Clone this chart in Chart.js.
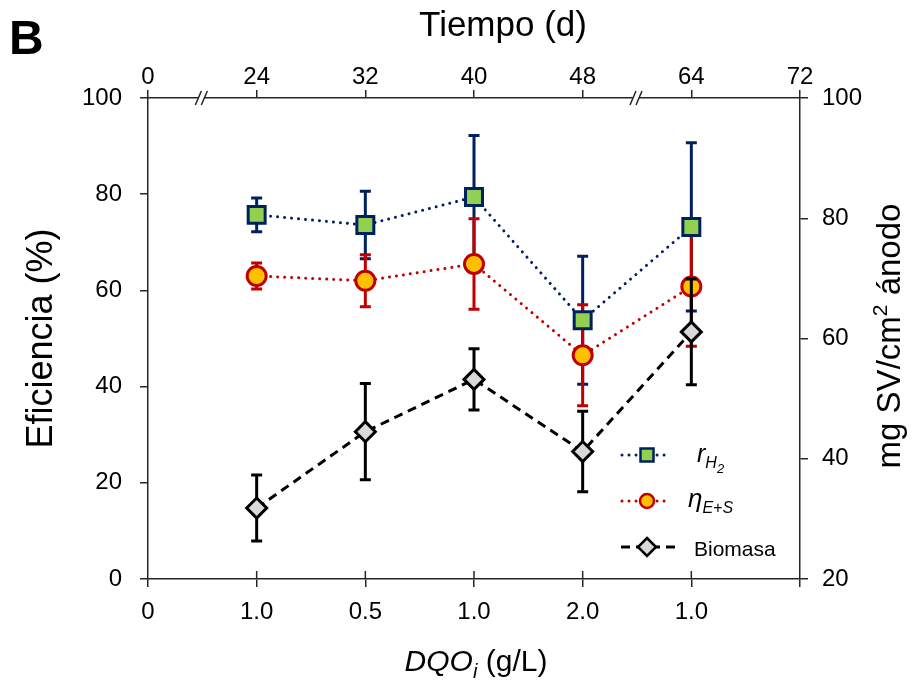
<!DOCTYPE html>
<html>
<head>
<meta charset="utf-8">
<script src="https://cdn.jsdelivr.net/npm/chart.js@4/dist/chart.umd.min.js"></script>
<style>
html,body{margin:0;padding:0;background:#fff;}
#wrap{position:relative;width:923px;height:682px;}
</style>
</head>
<body>
<div id="wrap"><canvas id="c" width="923" height="682"></canvas></div>
<script>
// ---- data ----
const xPositions = [1, 2, 3, 4, 5];
const bottomTickLabels = ['0', '1.0', '0.5', '1.0', '2.0', '1.0', ''];
const topTickLabels = ['0', '24', '32', '40', '48', '64', '72'];
const breakPositions = [0.5, 4.5];

const rH2 = [75.7, 73.6, 79.4, 53.8, 73.2];
const rH2Err = [3.5, 7.0, 12.8, 13.3, 17.5];
const eta = [63.0, 62.0, 65.5, 46.5, 60.8];
const etaErr = [2.7, 5.4, 9.4, 10.5, 12.4];
const biomasa = [31.8, 44.5, 53.2, 41.2, 61.1];
const biomasaErr = [5.5, 8.0, 5.1, 6.7, 8.8];

const FONT = "'Liberation Sans', Arial, sans-serif";
const AXIS = '#262626';
const NAVY = '#002060', RED = '#C00000';

function pts(vals) { return vals.map((v, i) => ({x: xPositions[i], y: v})); }

function drawErr(chart, index) {
  const ds = chart.data.datasets[index];
  const meta = chart.getDatasetMeta(index);
  const ys = chart.scales[ds.yAxisID];
  const ctx = chart.ctx;
  ctx.save();
  ctx.strokeStyle = ds.errColor;
  ctx.lineWidth = 3;
  ctx.lineCap = 'butt';
  meta.data.forEach((p, i) => {
    const v = ds.data[i].y, e = ds.errors[i];
    const yt = ys.getPixelForValue(v + e), yb = ys.getPixelForValue(v - e);
    ctx.beginPath();
    ctx.moveTo(p.x, yt); ctx.lineTo(p.x, yb);
    ctx.moveTo(p.x - 5.5, yt); ctx.lineTo(p.x + 5.5, yt);
    ctx.moveTo(p.x - 5.5, yb); ctx.lineTo(p.x + 5.5, yb);
    ctx.stroke();
  });
  ctx.restore();
}

const errorBars = {
  id: 'errorBars',
  beforeDatasetsDraw(chart) {
    chart.data.datasets.forEach((ds, i) => { if (ds.errEarly) drawErr(chart, i); });
  },
  beforeDatasetDraw(chart, args) {
    const ds = chart.data.datasets[args.index];
    if (ds.errors && !ds.errEarly) drawErr(chart, args.index);
  }
};

function richText(ctx, x, y, parts) {
  let cx = x;
  parts.forEach(pt => {
    ctx.font = pt.font;
    ctx.fillText(pt.text, cx, y + (pt.dy || 0));
    cx += ctx.measureText(pt.text).width;
  });
  return cx - x;
}
function measureRich(ctx, parts) {
  let w = 0;
  parts.forEach(pt => { ctx.font = pt.font; w += ctx.measureText(pt.text).width; });
  return w;
}

const extras = {
  id: 'extras',
  afterDraw(chart) {
    const ctx = chart.ctx, xs = chart.scales.x, a = chart.chartArea;
    ctx.save();
    // inward ticks on the bottom axis
    ctx.strokeStyle = AXIS; ctx.lineWidth = 1.5;
    for (let v = 1; v <= 5; v++) {
      const px = xs.getPixelForValue(v);
      ctx.beginPath(); ctx.moveTo(px, a.bottom); ctx.lineTo(px, a.bottom - 8); ctx.stroke();
    }
    // axis breaks on the top axis
    breakPositions.forEach(v => {
      const px = xs.getPixelForValue(v), y = a.top;
      ctx.fillStyle = '#fff';
      ctx.beginPath();
      ctx.moveTo(px - 7, y + 7); ctx.lineTo(px - 1, y - 7);
      ctx.lineTo(px + 5, y - 7); ctx.lineTo(px - 1, y + 7);
      ctx.closePath(); ctx.fill();
      ctx.strokeStyle = AXIS; ctx.lineWidth = 1.5;
      ctx.beginPath();
      ctx.moveTo(px - 7, y + 7); ctx.lineTo(px - 1, y - 7);
      ctx.moveTo(px - 1, y + 7); ctx.lineTo(px + 5, y - 7);
      ctx.stroke();
    });
    ctx.fillStyle = '#000';
    ctx.textBaseline = 'alphabetic';
    ctx.textAlign = 'left';
    // panel letter
    ctx.font = 'bold 48px ' + FONT;
    ctx.fillText('B', 9, 54);
    // top axis title
    ctx.font = '35px ' + FONT;
    const tw = ctx.measureText('Tiempo (d)').width;
    ctx.fillText('Tiempo (d)', 503 - tw / 2, 36);
    // bottom axis title
    const bt = [
      {text: 'DQO', font: 'italic 30px ' + FONT},
      {text: 'i', font: 'italic 20px ' + FONT, dy: 7},
      {text: ' (g/L)', font: '30px ' + FONT}
    ];
    const bw = measureRich(ctx, bt);
    richText(ctx, 476 - bw / 2, 671, bt);
    // right axis title (reads bottom to top)
    const rt = [
      {text: 'mg SV/cm', font: '33px ' + FONT},
      {text: '2', font: '21px ' + FONT, dy: -13},
      {text: ' ánodo', font: '33px ' + FONT}
    ];
    const rw = measureRich(ctx, rt);
    ctx.save();
    ctx.translate(900, 336);
    ctx.rotate(-Math.PI / 2);
    richText(ctx, -rw / 2, 0, rt);
    ctx.restore();
    // legend
    const lx = 647;
    const rows = [455, 501, 547];
    ctx.lineWidth = 3; ctx.lineCap = 'round';
    ctx.strokeStyle = NAVY; ctx.setLineDash([0.01, 7]);
    ctx.beginPath(); ctx.moveTo(622, rows[0]); ctx.lineTo(670, rows[0]); ctx.stroke();
    ctx.strokeStyle = RED;
    ctx.beginPath(); ctx.moveTo(622, rows[1]); ctx.lineTo(670, rows[1]); ctx.stroke();
    ctx.lineCap = 'butt';
    ctx.strokeStyle = '#000'; ctx.setLineDash([9, 6]);
    ctx.beginPath(); ctx.moveTo(621, rows[2]); ctx.lineTo(675, rows[2]); ctx.stroke();
    ctx.setLineDash([]);
    ctx.lineWidth = 2.5;
    ctx.fillStyle = '#92D050'; ctx.strokeStyle = NAVY;
    ctx.fillRect(lx - 6.5, rows[0] - 6.5, 13, 13); ctx.strokeRect(lx - 6.5, rows[0] - 6.5, 13, 13);
    ctx.fillStyle = '#FFC000'; ctx.strokeStyle = RED;
    ctx.beginPath(); ctx.arc(lx, rows[1], 7, 0, Math.PI * 2); ctx.fill(); ctx.stroke();
    ctx.fillStyle = '#D9D9D9'; ctx.strokeStyle = '#000';
    ctx.beginPath(); ctx.moveTo(lx, rows[2] - 9); ctx.lineTo(lx + 9, rows[2]); ctx.lineTo(lx, rows[2] + 9); ctx.lineTo(lx - 9, rows[2]); ctx.closePath();
    ctx.fill(); ctx.stroke();
    ctx.fillStyle = '#000';
    richText(ctx, 697, 462, [
      {text: 'r', font: 'italic 25px ' + FONT},
      {text: 'H', font: 'italic 16px ' + FONT, dy: 6},
      {text: '2', font: 'italic 13px ' + FONT, dy: 11}
    ]);
    richText(ctx, 688, 507, [
      {text: 'η', font: 'italic 26px ' + FONT},
      {text: 'E+S', font: 'italic 16px ' + FONT, dy: 6}
    ]);
    ctx.font = '21px ' + FONT;
    ctx.fillText('Biomasa', 694, 556);
    ctx.restore();
  }
};

const tickFont = {family: FONT, size: 24};
const gridOpts = {drawOnChartArea: false, drawTicks: true, tickLength: 8, color: AXIS, lineWidth: 1.5};
const borderOpts = {display: true, color: AXIS, width: 1.5};

new Chart(document.getElementById('c'), {
  type: 'line',
  data: {
    datasets: [
      {
        label: 'rH2', data: pts(rH2), errors: rH2Err, errColor: NAVY, errEarly: true,
        xAxisID: 'x', yAxisID: 'y', order: 3,
        borderColor: NAVY, borderWidth: 3, borderDash: [0.01, 7], borderCapStyle: 'round',
        pointStyle: 'rect', pointRadius: 12, pointBorderWidth: 3,
        pointBackgroundColor: '#92D050', pointBorderColor: NAVY, tension: 0, fill: false
      },
      {
        label: 'eta', data: pts(eta), errors: etaErr, errColor: RED, errEarly: true,
        xAxisID: 'x', yAxisID: 'y', order: 2,
        borderColor: RED, borderWidth: 3, borderDash: [0.01, 7], borderCapStyle: 'round',
        pointStyle: 'circle', pointRadius: 9.5, pointBorderWidth: 3,
        pointBackgroundColor: '#FFC000', pointBorderColor: RED, tension: 0, fill: false
      },
      {
        label: 'Biomasa', data: pts(biomasa), errors: biomasaErr, errColor: '#000',
        xAxisID: 'x', yAxisID: 'y2', order: 1,
        borderColor: '#000', borderWidth: 3, borderDash: [9, 6],
        pointStyle: 'rectRot', pointRadius: 10, pointBorderWidth: 3,
        pointBackgroundColor: '#D9D9D9', pointBorderColor: '#000', tension: 0, fill: false
      }
    ]
  },
  options: {
    responsive: false,
    animation: false,
    devicePixelRatio: 1,
    layout: {padding: 0},
    plugins: {legend: {display: false}, tooltip: {enabled: false}},
    scales: {
      x: {
        type: 'linear', position: 'bottom', min: 0, max: 6,
        afterFit(s) { s.height = 103; },
        ticks: {stepSize: 1, autoSkip: false, maxRotation: 0, padding: 11, color: '#000', font: tickFont,
          callback: v => bottomTickLabels[v]},
        grid: gridOpts, border: borderOpts
      },
      x2: {
        type: 'linear', position: 'top', min: 0, max: 6,
        afterFit(s) { s.height = 98; },
        ticks: {stepSize: 1, autoSkip: false, maxRotation: 0, padding: -2, color: '#000', font: tickFont,
          callback: v => topTickLabels[v]},
        grid: gridOpts, border: borderOpts
      },
      y: {
        position: 'left', min: 0, max: 100,
        afterFit(s) { s.width = 148; },
        ticks: {stepSize: 20, padding: 18, color: '#000', font: tickFont},
        grid: gridOpts, border: borderOpts,
        title: {display: true, text: 'Eficiencia (%)', color: '#000', font: {family: FONT, size: 36}, padding: {top: 20, bottom: 0}}
      },
      y2: {
        position: 'right', min: 20, max: 100,
        afterFit(s) { s.width = 123; },
        ticks: {stepSize: 20, padding: 14, color: '#000', font: tickFont},
        grid: gridOpts, border: borderOpts
      }
    }
  },
  plugins: [errorBars, extras]
});
</script>
</body>
</html>
